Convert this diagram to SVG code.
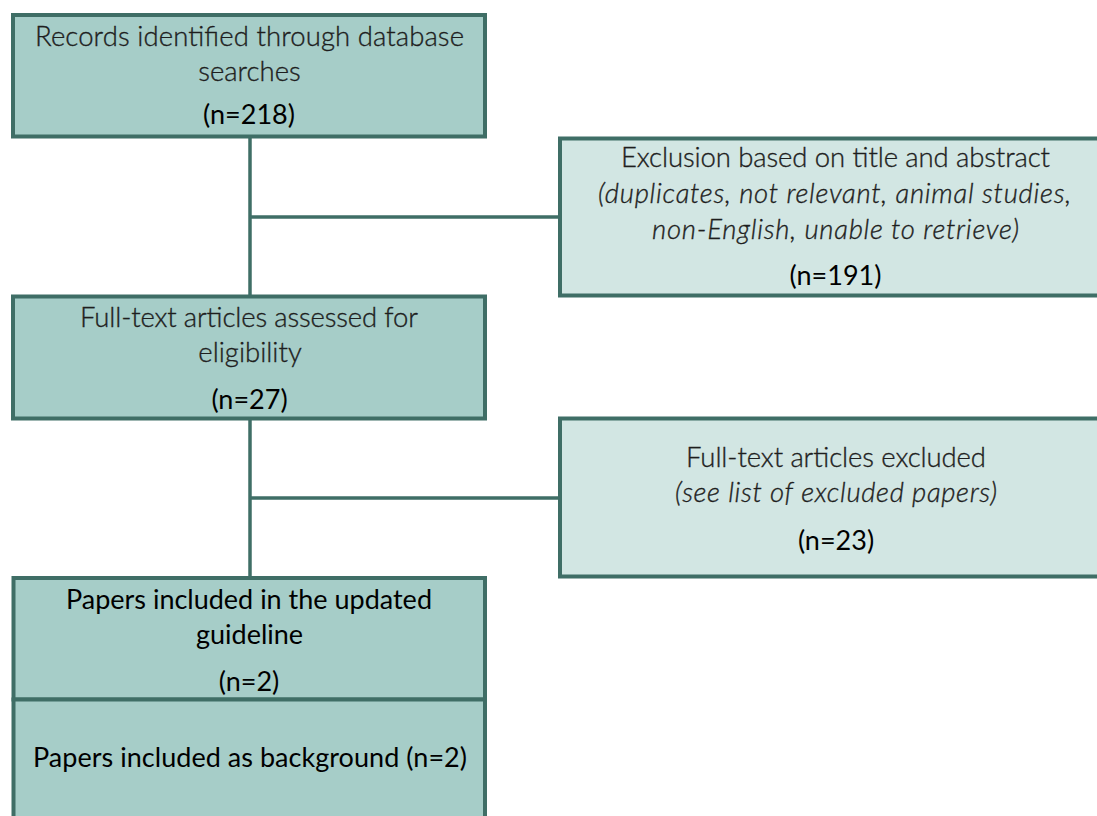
<svg xmlns="http://www.w3.org/2000/svg" width="1097" height="816" viewBox="0 0 1097 816">
  <style>
    .box { stroke: #3f6e66; stroke-width: 4; }
    .main { fill: #a6cdc8; }
    .side { fill: #d2e6e3; }
    .link { stroke: #3f6e66; stroke-width: 3.5; fill: none; }
    text { font-family: Lato, "Open Sans", "Liberation Sans", sans-serif; text-anchor: middle; }
    .lt { font-size: 27.5px; font-weight: 300; fill: #1e1e1e; stroke: #1e1e1e; stroke-width: 0.35; }
    .it { font-size: 27.5px; font-weight: 300; font-style: italic; fill: #1e1e1e; stroke: #1e1e1e; stroke-width: 0.35; }
    .rg { font-size: 27px; font-weight: 400; fill: #000; }
  </style>

  <!-- connectors: main trunk with side branches -->
  <g id="connectors">
    <line class="link" x1="250" y1="136" x2="250" y2="297"/>
    <line class="link" x1="250" y1="217" x2="560" y2="217"/>
    <line class="link" x1="250" y1="418" x2="250" y2="578"/>
    <line class="link" x1="250" y1="498" x2="560" y2="498"/>
  </g>

  <g id="records">
    <rect class="box main" x="13" y="15" width="472" height="121.5"/>
    <text class="lt" x="249.5" y="46" textLength="429">Records identified through database</text>
    <text class="lt" x="249.5" y="81">searches</text>
    <text class="rg" x="249" y="124">(n=218)</text>
  </g>

  <g id="exclusion-title-abstract">
    <rect class="box side" x="560" y="138.5" width="552" height="157"/>
    <text class="lt" x="835.5" y="167" textLength="429">Exclusion based on title and abstract</text>
    <text class="it" x="834.5" y="203" textLength="473">(duplicates, not relevant, animal studies,</text>
    <text class="it" x="835.5" y="239" textLength="367">non-English, unable to retrieve)</text>
    <text class="rg" x="835.5" y="285">(n=191)</text>
  </g>

  <g id="full-text-assessed">
    <rect class="box main" x="13" y="296.5" width="472" height="122"/>
    <text class="lt" x="249" y="327" textLength="338">Full-text articles assessed for</text>
    <text class="lt" x="250" y="362">eligibility</text>
    <text class="rg" x="249.5" y="409">(n=27)</text>
  </g>

  <g id="full-text-excluded">
    <rect class="box side" x="560" y="418.5" width="552" height="158"/>
    <text class="lt" x="836" y="467" textLength="300">Full-text articles excluded</text>
    <text class="it" x="836" y="502" textLength="322">(see list of excluded papers)</text>
    <text class="rg" x="836" y="550">(n=23)</text>
  </g>

  <g id="included-guideline">
    <rect class="box main" x="13.5" y="578" width="471.5" height="121.5"/>
    <text class="rg" x="249" y="609" textLength="366">Papers included in the updated</text>
    <text class="rg" x="249.5" y="644">guideline</text>
    <text class="rg" x="249" y="691">(n=2)</text>
  </g>

  <g id="included-background">
    <rect class="box main" x="13.5" y="699.5" width="471.5" height="130"/>
    <text class="rg" x="250" y="767" textLength="434">Papers included as background (n=2)</text>
  </g>
</svg>
